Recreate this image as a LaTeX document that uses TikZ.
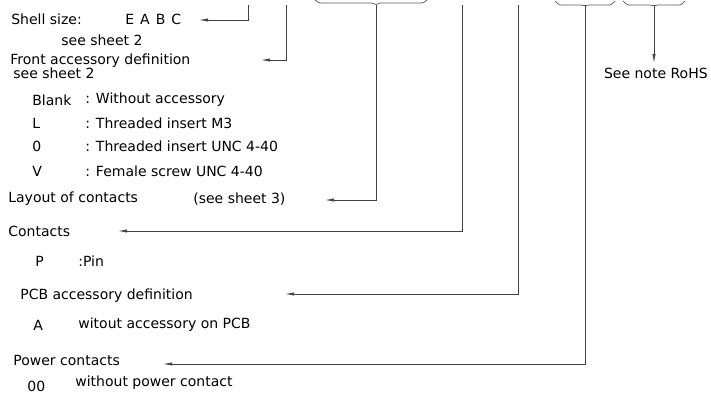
\documentclass[tikz,border=0pt]{standalone}
\usepackage{fontspec}
\setmainfont{DejaVu Sans}
\usetikzlibrary{arrows.meta}

\begin{document}
\begin{tikzpicture}[x=1pt,y=-1pt,line width=.7pt,
    lead/.style={draw=black!75,-{Latex[length=9pt,width=3.2pt]}},
    brace/.style={draw=black!65,rounded corners=1.5pt}]

        \useasboundingbox (0,0) rectangle (711,403);

        \begin{scope}[every node/.style={anchor=west,inner sep=0pt,font=\fontsize{14}{16}\selectfont}]
          \node (shell)  at (11,19)  {Shell size:};
          \node (eabc)   at (125,19) {E\hspace{6pt}A\hspace{6pt}B\hspace{6pt}C};
          \node (sh1)    at (61,40)  {see sheet 2};
          \node (front)  at (10,61)  {Front accessory definition};
          \node (sh2)    at (13,73)  {see sheet 2};
          \node (kb)     at (32,100) {Blank};
          \node (db)     at (85,100) {: Without accessory};
          \node (kl)     at (32,123) {L};
          \node (dl)     at (85,123) {: Threaded insert M3};
          \node (ko)     at (32,146) {0};
          \node (do)     at (85,146) {: Threaded insert UNC 4-40};
          \node (kv)     at (32,171) {V};
          \node (dv)     at (85,171) {: Female screw UNC 4-40};
          \node (layout) at (8,199)  {Layout of contacts};
          \node (sh3)    at (193,199) {(see sheet 3)};
          \node (cont)   at (8,231)  {Contacts};
          \node (kp)     at (35,261) {P};
          \node (dp)     at (78,261) {:Pin};
          \node (pcb)    at (20,296) {PCB accessory definition};
          \node (ka)     at (33,325) {A};
          \node (da)     at (78,325) {witout accessory on PCB};
          \node (power)  at (13,360) {Power contacts};
          \node (k00)    at (27,386) {00};
          \node (d00)    at (75,383) {without power contact};
          \node[anchor=east] (rohs) at (708,73) {See note RoHS};
        \end{scope}

        % braces at the top
        \draw[brace] (315,0) -- (319,3) -- (373,3) -- (376,5) -- (379,3) -- (423,3) -- (427,0);
        \draw[brace] (555,1) -- (559,5) -- (582,5) -- (585,6) -- (588,5) -- (611,5) -- (615,1);
        \draw[brace] (623,1) -- (627,5) -- (651,5) -- (654,6) -- (657,5) -- (681,5) -- (685,1);

        \coordinate (s1) at (248,5);
        \coordinate (s2) at (286,5);
        \coordinate (s3) at (376,5);
        \coordinate (s4) at (462,5);
        \coordinate (s5) at (518,5);
        \coordinate (s6) at (585,6);
        \coordinate (s7) at (654,6);

        \coordinate (t1) at (199,20);
        \coordinate (t2) at (261,60);
        \coordinate (t3) at (325,200);
        \coordinate (t4) at (118,231);
        \coordinate (t5) at (285,294);
        \coordinate (t6) at (163,364);
        \coordinate (t7) at (654,63);

        \draw[lead] (s1) |- (t1);
        \draw[lead] (s2) |- (t2);
        \draw[lead] (s3) |- (t3);
        \draw[lead] (s4) |- (t4);
        \draw[lead] (s5) |- (t5);
        \draw[lead] (s6) |- (t6);
        \draw[lead] (s7) -- (t7);

\end{tikzpicture}
\end{document}
